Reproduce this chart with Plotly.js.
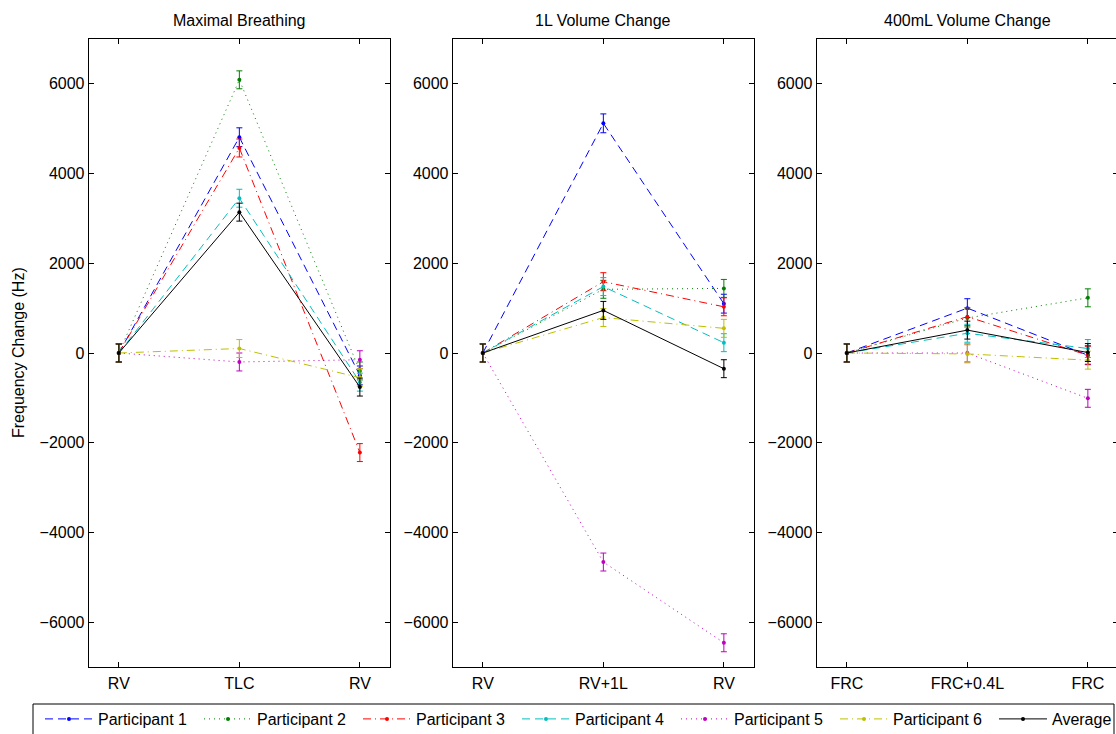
<!DOCTYPE html>
<html><head><meta charset="utf-8">
<script src="https://cdn.plot.ly/plotly-3.0.1.min.js"></script>
<style>html,body{margin:0;padding:0;overflow:hidden;background:#fff}#chart{width:1120px;height:744px}</style>
</head><body><div id="chart"></div>
<script>
// ---- data ----
const panelTitles = ['Maximal Breathing', '1L Volume Change', '400mL Volume Change'];
const maximalCats = ['RV', 'TLC', 'RV'];
const oneLitreCats = ['RV', 'RV+1L', 'RV'];
const frcCats = ['FRC', 'FRC+0.4L', 'FRC'];
const seriesNames = ['Participant 1', 'Participant 2', 'Participant 3', 'Participant 4', 'Participant 5', 'Participant 6', 'Average'];

// Maximal Breathing (Hz)
const maximalP1 = [0, 4810, -500];
const maximalP2 = [0, 6090, -400];
const maximalP3 = [0, 4570, -2220];
const maximalP4 = [0, 3450, -650];
const maximalP5 = [0, -200, -150];
const maximalP6 = [0, 100, -550];
const maximalAvg = [0, 3140, -760];

// 1L Volume Change (Hz)
const oneLitreP1 = [0, 5120, 1100];
const oneLitreP2 = [0, 1420, 1440];
const oneLitreP3 = [0, 1590, 1030];
const oneLitreP4 = [0, 1480, 230];
const oneLitreP5 = [0, -4660, -6460];
const oneLitreP6 = [0, 790, 550];
const oneLitreAvg = [0, 950, -350];

// 400mL Volume Change (Hz)
const frcP1 = [0, 1000, -50];
const frcP2 = [0, 780, 1230];
const frcP3 = [0, 810, -50];
const frcP4 = [0, 440, 100];
const frcP5 = [0, 0, -1010];
const frcP6 = [0, -20, -160];
const frcAvg = [0, 510, 10];

// error bar half-widths (Hz), per series
const seriesErr = [210, 200, 200, 200, 200, 200, 200];

const yTicks = [-6000, -4000, -2000, 0, 2000, 4000, 6000];

// ---- styling ----
const colors = ['#0000ff', '#008000', '#ff0000', '#00bfbf', '#bf00bf', '#bfbf00', '#000000'];
const dashes = ['8px,5px', '1px,4px', '8px,4px,1px,4px', '8px,5px', '1px,4px', '8px,4px,1px,4px', 'solid'];
const legendWidths = [96, 96, 96, 96, 96, 96, 60];

const panels = [
  {cats: maximalCats, series: [maximalP1, maximalP2, maximalP3, maximalP4, maximalP5, maximalP6, maximalAvg]},
  {cats: oneLitreCats, series: [oneLitreP1, oneLitreP2, oneLitreP3, oneLitreP4, oneLitreP5, oneLitreP6, oneLitreAvg]},
  {cats: frcCats, series: [frcP1, frcP2, frcP3, frcP4, frcP5, frcP6, frcAvg]}
];

const W = 1120, H = 744;
const plotTop = 39, plotBottom = 667;
const plotH = plotBottom - plotTop;
const panelLeft = [88.7, 452.7, 816.7];
const panelWidth = 301.3;
const FONT = 'Arial, "Liberation Sans", Helvetica, sans-serif';
const py = px => (plotBottom - px) / plotH; // pixel row -> paper y

const traces = [];
const layout = {
  width: W, height: H,
  margin: {l: 0, r: 0, t: plotTop, b: H - plotBottom},
  paper_bgcolor: '#fff', plot_bgcolor: '#fff',
  font: {family: FONT, size: 16, color: '#000'},
  showlegend: true,
  legend: {
    orientation: 'h', x: 40 / W, xanchor: 'left', y: py(702), yanchor: 'top',
    borderwidth: 0, bgcolor: 'rgba(0,0,0,0)',
    font: {family: FONT, size: 16, color: '#000'},
    itemwidth: 48, traceorder: 'normal'
  },
  shapes: [{
    type: 'rect', xref: 'paper', yref: 'paper',
    x0: 33 / W, x1: 1114 / W, y0: py(704), y1: py(744),
    line: {color: '#000', width: 1}, fillcolor: 'rgba(0,0,0,0)', layer: 'below'
  }],
  annotations: []
};

panels.forEach((p, pi) => {
  const sfx = pi === 0 ? '' : String(pi + 1);
  const xs = p.cats.map((_, i) => i);
  p.series.forEach((vals, si) => {
    traces.push({
      type: 'scatter', mode: 'lines+markers',
      x: xs, y: vals,
      xaxis: 'x' + sfx, yaxis: 'y' + sfx,
      name: seriesNames[si], legendgroup: seriesNames[si],
      showlegend: pi === 0,
      legendwidth: legendWidths[si],
      line: {color: colors[si], width: 1, dash: dashes[si]},
      marker: {color: colors[si], size: 4},
      error_y: {type: 'data', array: vals.map(() => seriesErr[si]), color: colors[si], thickness: 1, width: 3},
      hoverinfo: 'x+y+name'
    });
  });
  const x0 = panelLeft[pi] / W, x1 = Math.min((panelLeft[pi] + panelWidth) / W, 1);
  layout['xaxis' + sfx] = {
    domain: [x0, x1], anchor: 'y' + sfx, range: [-0.25, 2.25],
    tickvals: xs, ticktext: p.cats, ticks: 'inside', ticklen: 5, tickcolor: '#000',
    ticklabelstandoff: 2,
    showline: true, linecolor: '#000', linewidth: 1, mirror: 'ticks',
    showgrid: false, zeroline: false, fixedrange: true,
    tickfont: {family: FONT, size: 16, color: '#000'}
  };
  layout['yaxis' + sfx] = {
    anchor: 'x' + sfx, range: [-7000, 7000],
    tickvals: yTicks, ticks: 'inside', ticklen: 5, tickcolor: '#000',
    showline: true, linecolor: '#000', linewidth: 1, mirror: 'ticks',
    showgrid: false, zeroline: false, fixedrange: true,
    tickfont: {family: FONT, size: 16, color: '#000'}
  };
  layout.annotations.push({
    text: panelTitles[pi], xref: 'x' + sfx + ' domain', yref: 'y' + sfx + ' domain',
    x: 0.5, y: 1, xanchor: 'center', yanchor: 'bottom', yshift: 8, showarrow: false,
    font: {family: FONT, size: 16, color: '#000'}
  });
});

layout.annotations.push({
  text: 'Frequency Change (Hz)', xref: 'paper', yref: 'y domain',
  x: 18 / W, y: 0.5, xanchor: 'center', yanchor: 'middle', textangle: -90, showarrow: false,
  font: {family: FONT, size: 16, color: '#000'}
});

Plotly.newPlot('chart', traces, layout, {displayModeBar: false, staticPlot: true});
</script>
</body></html>
